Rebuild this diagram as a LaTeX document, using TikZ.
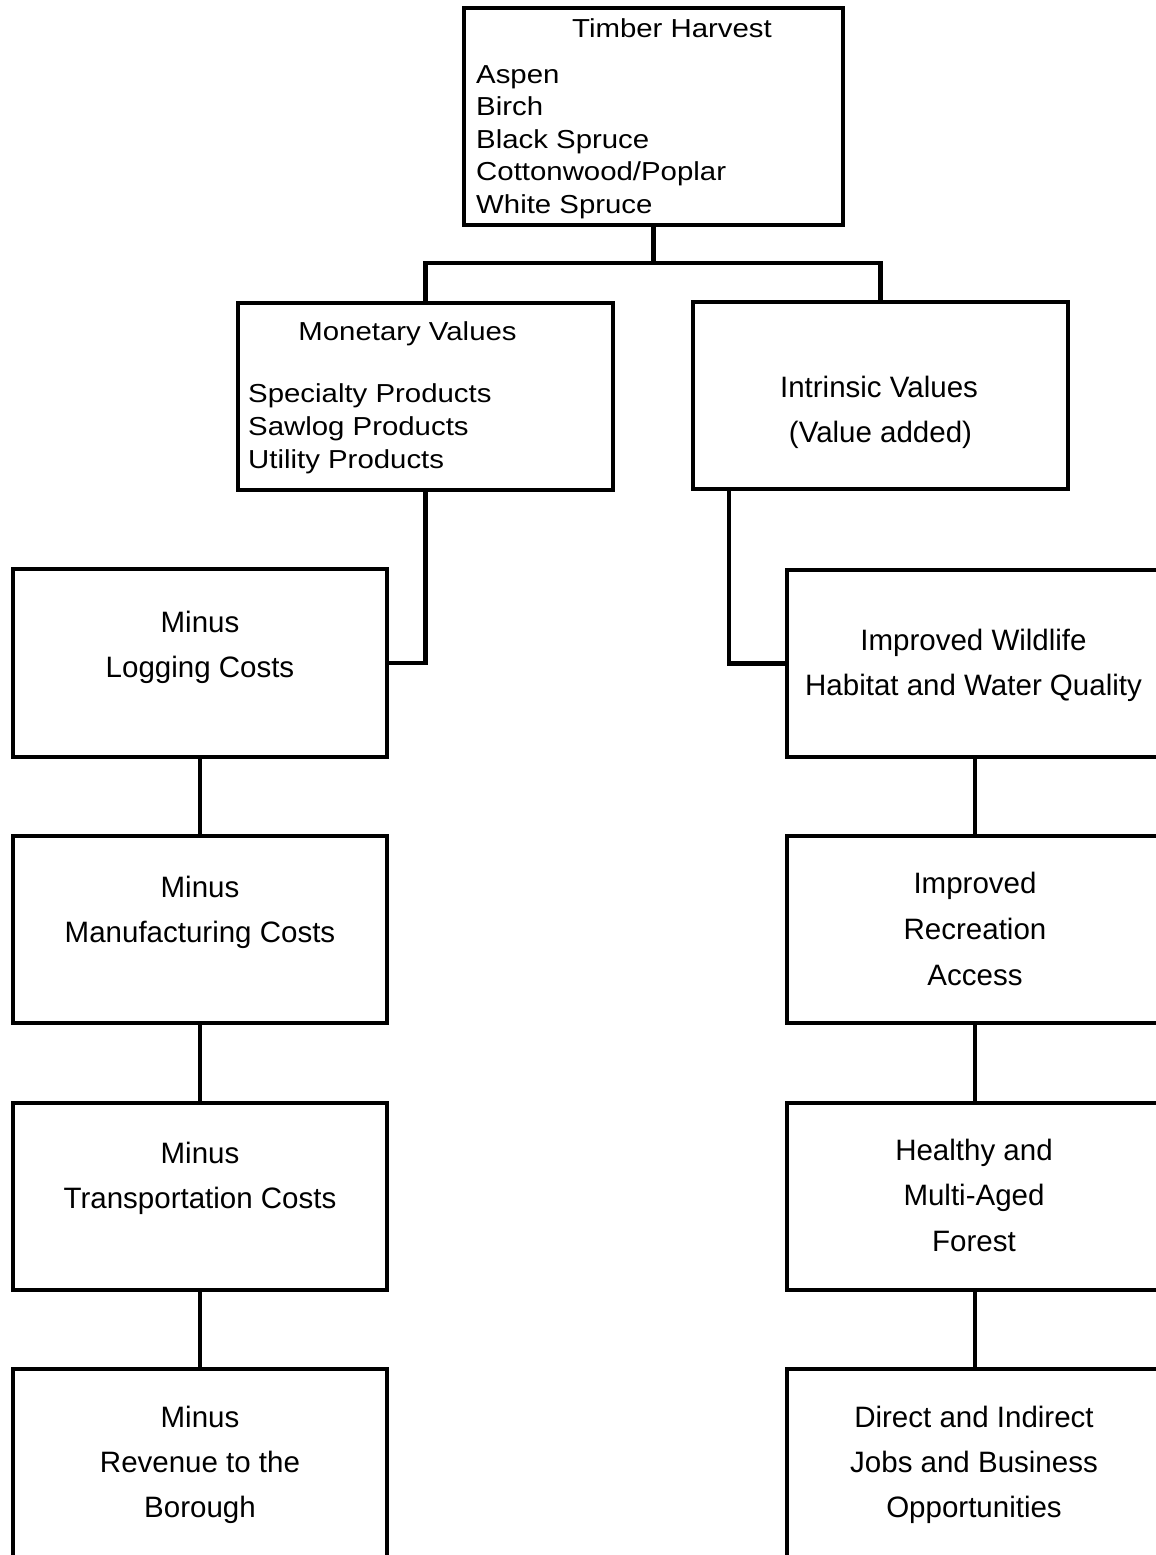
\documentclass[tikz,border=0pt]{standalone}
\usepackage{fontspec}
\setmainfont{Liberation Sans}
\newfontfamily\listfont[FakeStretch=1.13]{Liberation Sans}
\begin{document}
\begin{tikzpicture}[x=1pt,y=-1pt,
  box/.style={draw, line width=4.5pt, inner sep=0pt, rectangle, line join=miter},
  wire/.style={line width=4.5pt, line join=miter},
  lbl/.style={anchor=base, inner sep=0pt, font=\fontsize{29.5}{45}\selectfont},
  hdr/.style={anchor=base, inner sep=0pt, font=\listfont\fontsize{26}{32.5}\selectfont},
  lst/.style={anchor=base west, inner sep=0pt, font=\listfont\fontsize{26}{32.5}\selectfont}]
\useasboundingbox (0,0) rectangle (1156,1555);
\clip (0,0) rectangle (1156,1555);

% boxes
\node[box, minimum width=379pt, minimum height=217pt] (timber) at (653.5,116.5) {};
\node[box, minimum width=375pt, minimum height=187pt] (monetary) at (425.5,396.5) {};
\node[box, minimum width=375pt, minimum height=187pt] (intrinsic) at (880.5,395.5) {};

\node[box, minimum width=374pt, minimum height=188pt] (logging) at (200,663) {};
\node[box, minimum width=374pt, minimum height=187pt] (manuf) at (200,929.5) {};
\node[box, minimum width=374pt, minimum height=187pt] (transp) at (200,1196.5) {};
\node[box, minimum width=374pt, minimum height=188pt] (revenue) at (200,1463) {};

\node[box, minimum width=376pt, minimum height=187pt] (wildlife) at (975,663.5) {};
\node[box, minimum width=376pt, minimum height=187pt] (recreation) at (975,929.5) {};
\node[box, minimum width=376pt, minimum height=187pt] (forest) at (975,1196.5) {};
\node[box, minimum width=376pt, minimum height=188pt] (jobs) at (975,1463) {};

% connectors
\coordinate (hub) at (653.5,263);
\draw[wire] (timber.south) -- (hub);
\draw[wire] (monetary.north) -- (monetary.north |- hub) -- (intrinsic.north |- hub) -- (intrinsic.north);
\draw[wire] (monetary.south) |- (logging.east);
\draw[wire] (intrinsic.south west) ++(38,0) |- (wildlife.west);
\draw[wire] (logging.south) -- (manuf.north);
\draw[wire] (manuf.south) -- (transp.north);
\draw[wire] (transp.south) -- (revenue.north);
\draw[wire] (wildlife.south) -- (recreation.north);
\draw[wire] (recreation.south) -- (forest.north);
\draw[wire] (forest.south) -- (jobs.north);

% timber harvest
\node[hdr] (th) at (672,38) {Timber Harvest};
\node[lst] (th1) at (476,83) {Aspen};
\node[lst] (th2) at (476,115.5) {Birch};
\node[lst] (th3) at (476,148) {Black Spruce};
\node[lst] (th4) at (476,180.5) {Cottonwood/Poplar};
\node[lst] (th5) at (476,213) {White Spruce};

% monetary values
\node[hdr] (mv) at (407.5,340) {Monetary Values};
\node[lst] (mv1) at (248,402) {Specialty Products};
\node[lst] (mv2) at (248,435) {Sawlog Products};
\node[lst] (mv3) at (248,468) {Utility Products};

% intrinsic values
\node[lbl] (iv1) at (879,397) {Intrinsic Values};
\node[lbl] (iv2) at (880.5,442) {(Value added)};

% monetary chain
\node[lbl] (lg1) at (200,632) {Minus};
\node[lbl] (lg2) at (200,677) {Logging Costs};
\node[lbl] (mf1) at (200,897) {Minus};
\node[lbl] (mf2) at (200,942) {Manufacturing Costs};
\node[lbl] (tr1) at (200,1163) {Minus};
\node[lbl] (tr2) at (200,1208) {Transportation Costs};
\node[lbl] (rv1) at (200,1427) {Minus};
\node[lbl] (rv2) at (200,1472) {Revenue to the};
\node[lbl] (rv3) at (200,1517) {Borough};

% intrinsic chain
\node[lbl] (wl1) at (973.5,650) {Improved Wildlife};
\node[lbl] (wl2) at (973.5,695) {Habitat and Water Quality};
\node[lbl] (rc1) at (975,893) {Improved};
\node[lbl] (rc2) at (975,939) {Recreation};
\node[lbl] (rc3) at (975,985) {Access};
\node[lbl] (fo1) at (974,1160) {Healthy and};
\node[lbl] (fo2) at (974,1205) {Multi-Aged};
\node[lbl] (fo3) at (974,1251) {Forest};
\node[lbl] (jb1) at (974,1427) {Direct and Indirect};
\node[lbl] (jb2) at (974,1472) {Jobs and Business};
\node[lbl] (jb3) at (974,1517) {Opportunities};
\end{tikzpicture}
\end{document}
